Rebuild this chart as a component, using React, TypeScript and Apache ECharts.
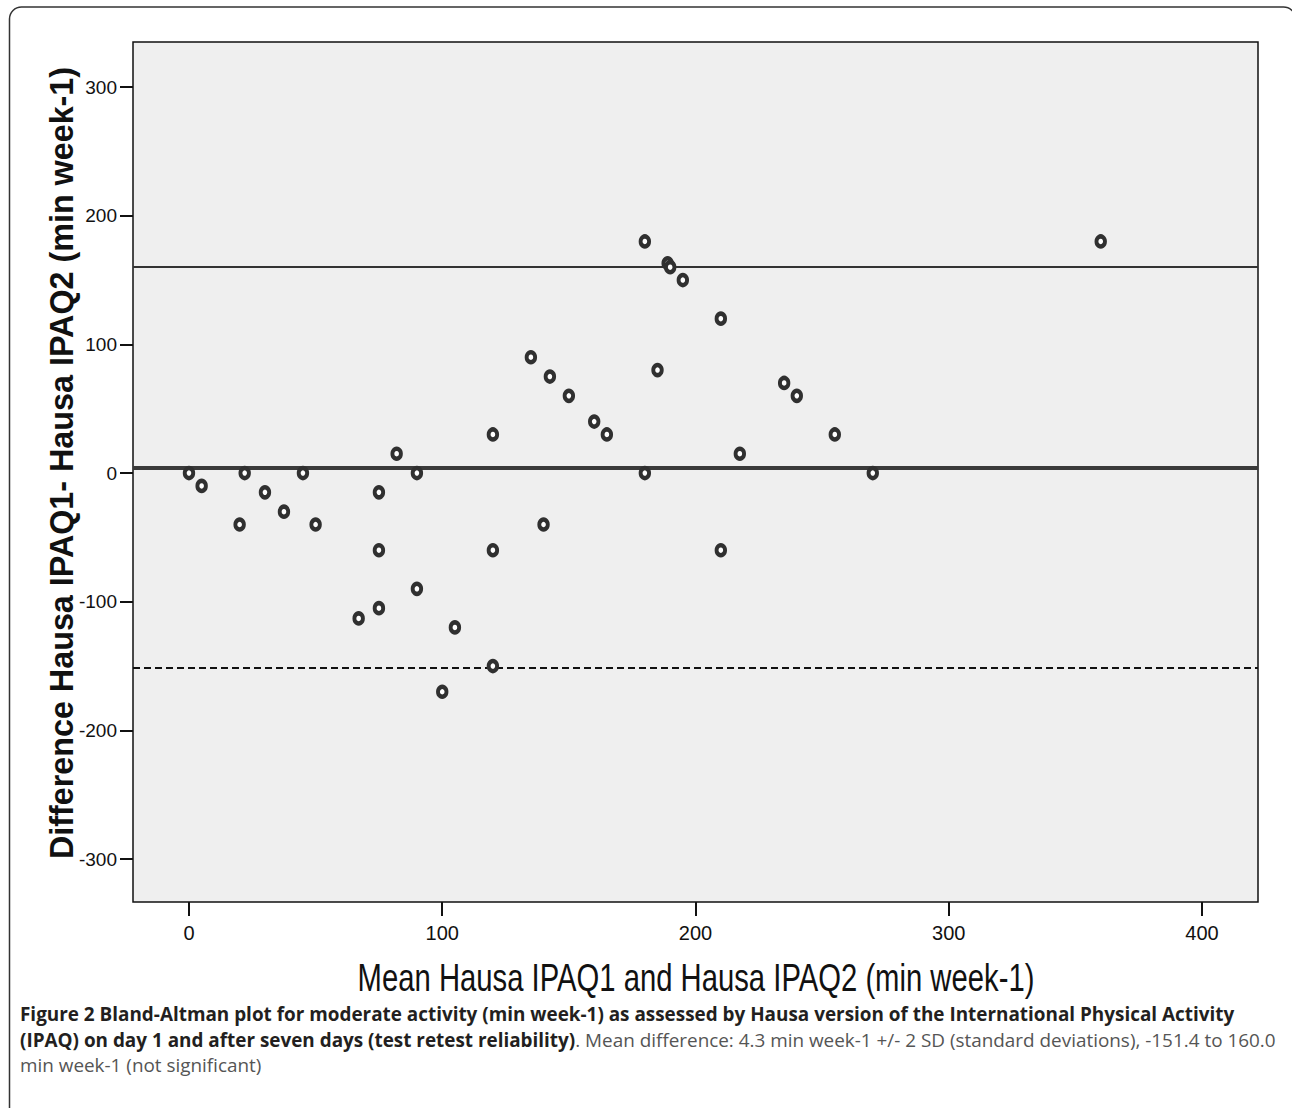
import React, { useEffect, useRef } from "react";
import * as echarts from "echarts";

const meanValues = [0, 5, 20, 22, 30, 37.5, 45, 50, 67, 75, 75, 75, 82, 90, 90, 100, 105, 120, 120, 120, 135, 140, 142.5, 150, 160, 165, 180, 180, 185, 189, 190, 195, 210, 210, 217.5, 235, 240, 255, 270, 360];
const diffValues = [0, -10, -40, 0, -15, -30, 0, -40, -113, -15, -60, -105, 15, 0, -90, -170, -120, 30, -60, -150, 90, -40, 75, 60, 40, 30, 180, 0, 80, 163, 160, 150, 120, -60, 15, 70, 60, 30, 0, 180];

const meanDifference = 4.3;
const upperLimit = 160.0;
const lowerLimit = -151.4;

const xTicks = [0, 100, 200, 300, 400];
const yTicks = [-300, -200, -100, 0, 100, 200, 300];

const xTitle = "Mean Hausa IPAQ1 and Hausa IPAQ2 (min week-1)";
const yTitle = "Difference Hausa IPAQ1- Hausa IPAQ2 (min week-1)";
const captionLine1 = "Figure 2 Bland-Altman plot for moderate activity (min week-1) as assessed by Hausa version of the International Physical Activity";
const captionLine2Bold = "(IPAQ) on day 1 and after seven days (test retest reliability)";
const captionLine2 = ". Mean difference: 4.3 min week-1 +/- 2 SD (standard deviations), -151.4 to 160.0";
const captionLine3 = "min week-1 (not significant)";

export default function App() {
  const ref = useRef<HTMLDivElement>(null);
  useEffect(() => {
    if (!ref.current) return;
    const chart = echarts.init(ref.current, null, { renderer: "svg" });
    const data = meanValues.map((m, i) => [m, diffValues[i]]);
    const captionFont = "Open Sans";
    const captionSize = 18.9;
    chart.setOption({
      animation: false,
      backgroundColor: "#ffffff",
      grid: {
        left: 133,
        top: 42,
        width: 1125,
        height: 860,
        show: true,
        backgroundColor: "#efefef",
        borderColor: "#111",
        borderWidth: 1.5,
      },
      xAxis: {
        type: "value",
        min: -22.1,
        max: 422.1,
        axisLine: { show: false, onZero: false },
        splitLine: { show: false },
        axisTick: {
          show: true,
          customValues: xTicks,
          length: 14,
          lineStyle: { color: "#111", width: 2 },
        },
        axisLabel: {
          customValues: xTicks,
          margin: 21,
          fontFamily: "Liberation Sans, Arial",
          fontSize: 20,
          color: "#111",
        },
      },
      yAxis: {
        type: "value",
        min: -333.4,
        max: 335.0,
        axisLine: { show: false, onZero: false },
        splitLine: { show: false },
        axisTick: {
          show: true,
          customValues: yTicks,
          length: 13,
          lineStyle: { color: "#111", width: 2 },
        },
        axisLabel: {
          customValues: yTicks,
          margin: 16,
          fontFamily: "Liberation Sans, Arial",
          fontSize: 19,
          color: "#111",
        },
        name: yTitle,
        nameLocation: "middle",
        nameGap: 55,
        nameMoveOverlap: false,
        nameTextStyle: {
          fontFamily: "Liberation Sans, Arial",
          fontWeight: "bold",
          fontSize: 32.3,
          color: "#111",
          padding: [0, 0, 0, 18],
        },
      },
      series: [
        {
          type: "scatter",
          data,
          symbol: "circle",
          symbolSize: [8.5, 10],
          itemStyle: { color: "#ffffff", borderColor: "#303030", borderWidth: 4.2, opacity: 1 },
          z: 5,
          markLine: {
            silent: true,
            symbol: "none",
            label: { show: false },
            data: [
              { yAxis: meanDifference, lineStyle: { color: "#3a3a3a", width: 4, type: "solid" } },
              { yAxis: upperLimit, lineStyle: { color: "#333", width: 2, type: "solid" } },
              { yAxis: lowerLimit, lineStyle: { color: "#111", width: 2, type: [7, 4] } },
            ],
          },
        },
      ],
      graphic: [
        {
          type: "rect",
          shape: { x: 9.5, y: 7, width: 1286, height: 1200, r: 12 },
          style: { fill: "none", stroke: "#333", lineWidth: 1.5 },
          silent: true,
          z: -10,
        },
        {
          type: "text",
          x: 696,
          y: 977,
          scaleX: 0.75,
          style: {
            text: xTitle,
            fontFamily: "Liberation Sans, Arial",
            fontSize: 39,
            fill: "#111",
            align: "center",
            verticalAlign: "middle",
          },
        },
        {
          type: "text",
          x: 20,
          y: 1014,
          style: {
            text: captionLine1,
            fontFamily: captionFont,
            fontWeight: "bold",
            fontSize: captionSize,
            fill: "#231f20",
            verticalAlign: "middle",
          },
        },
        {
          type: "text",
          x: 20,
          y: 1040,
          style: {
            text: "{b|" + captionLine2Bold + "}{r|" + captionLine2 + "}",
            verticalAlign: "middle",
            rich: {
              b: { fontFamily: captionFont, fontWeight: "bold", fontSize: captionSize, fill: "#231f20", color: "#231f20" },
              r: { fontFamily: captionFont, fontWeight: "normal", fontSize: captionSize, fill: "#555", color: "#555" },
            },
          },
        },
        {
          type: "text",
          x: 20,
          y: 1065,
          style: {
            text: captionLine3,
            fontFamily: captionFont,
            fontSize: captionSize,
            fill: "#555",
            verticalAlign: "middle",
          },
        },
      ],
    });
    return () => chart.dispose();
  }, []);
  return (
    <div
      ref={ref}
      style={{ position: "fixed", left: 0, top: 0, width: 1292, height: 1108 }}
    />
  );
}
